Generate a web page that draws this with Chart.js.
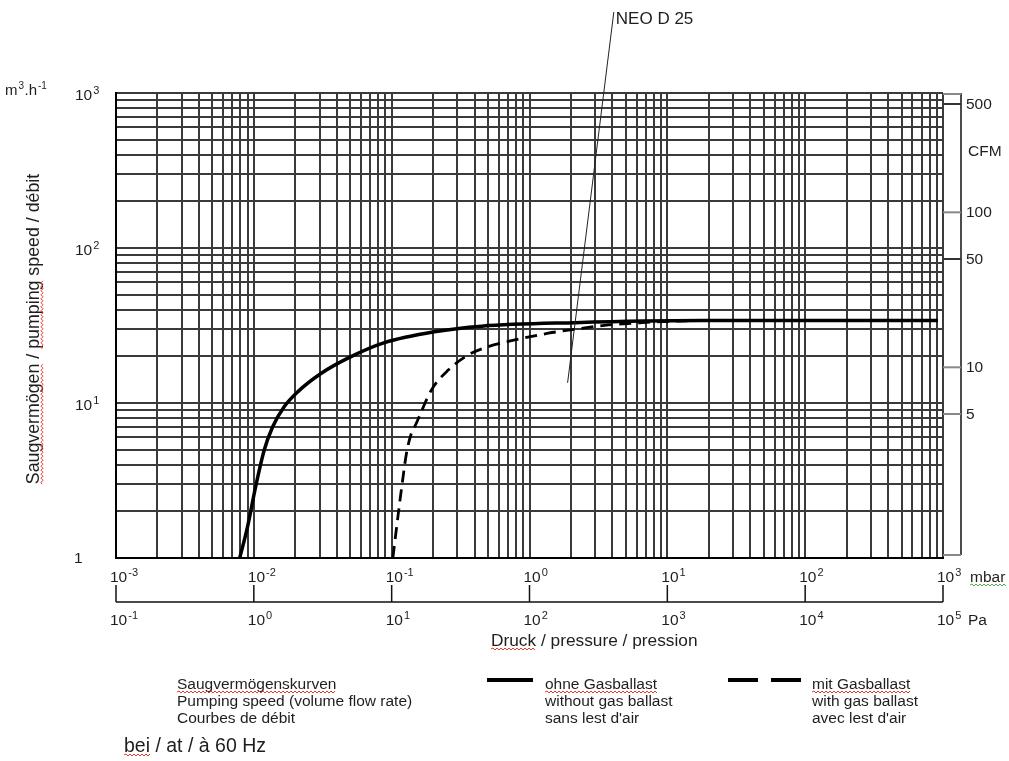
<!DOCTYPE html>
<html>
<head>
<meta charset="utf-8">
<script src="https://cdn.jsdelivr.net/npm/chart.js@4.4.1/dist/chart.umd.min.js"></script>
<style>
  html, body { margin: 0; padding: 0; background: #fff; }
  #wrap { width: 1009px; height: 761px; position: relative; }
</style>
</head>
<body>
<div id="wrap"><canvas id="pumpChart"></canvas></div>
<script>
// pressure in mbar, pumping speed in m3/h
const solidPressure = [0.0079, 0.009, 0.0103, 0.0119, 0.0137, 0.0166, 0.0208, 0.0307, 0.0507, 0.0887, 0.204, 0.45, 2.14, 17.9, 920];
const solidSpeed    = [1.0, 1.59, 2.88, 4.98, 7.03, 9.46, 11.8, 15.5, 19.9, 24.5, 28.8, 31.3, 33.0, 34.0, 34.0];
const dashPressure  = [0.102, 0.111, 0.121, 0.128, 0.139, 0.147, 0.194, 0.257, 0.359, 0.501, 0.783, 1.37, 2.14, 3.75, 6.55, 9.6, 14];
const dashSpeed     = [1.0, 1.85, 3.34, 4.73, 6.38, 7.03, 12.1, 16.3, 20.4, 23.1, 25.5, 28.2, 29.9, 31.9, 33.0, 33.5, 33.9];

const mbarExps = [-3, -2, -1, 0, 1, 2, 3];
const paExps = [-1, 0, 1, 2, 3, 4, 5];
const speedExps = [0, 1, 2, 3];
const cfmTicks = [5, 10, 50, 100, 500];
const CFM_PER_M3H = 0.5886;
const MBAR_PER_PA = 0.01;

const labelNote = { text: "NEO D 25", from: [4.09, 3330], to: [1.89, 13.5] };

const FONT = '"Liberation Sans", Arial, sans-serif';
const INK = '#1e1e1e';

function logGrid(minExp, maxExp) {
  const t = [];
  for (let e = minExp; e < maxExp; e++) {
    for (let d = 1; d <= 9; d++) t.push(d * Math.pow(10, e));
  }
  t.push(Math.pow(10, maxExp));
  return t;
}

function toPoints(xs, ys) {
  return xs.map((x, i) => ({ x: x, y: ys[i] }));
}

function pow10(ctx, e, x, y, size) {
  ctx.font = size + 'px ' + FONT;
  ctx.textAlign = 'left';
  ctx.fillText('10', x, y);
  const w = ctx.measureText('10').width;
  ctx.font = Math.round(size * 0.7) + 'px ' + FONT;
  ctx.fillText(String(e), x + w + 1, y - 6);
}

function wavy(ctx, x1, x2, y, color) {
  ctx.save();
  ctx.strokeStyle = color;
  ctx.lineWidth = 1;
  ctx.beginPath();
  let up = true;
  ctx.moveTo(x1, y);
  for (let x = x1 + 2; x <= x2; x += 2) {
    ctx.lineTo(x, up ? y - 1 : y + 1);
    up = !up;
  }
  ctx.stroke();
  ctx.restore();
}

const extras = {
  id: 'extras',
  afterDraw(chart) {
    const ctx = chart.ctx;
    const xs = chart.scales.x, ys = chart.scales.y;
    const area = chart.chartArea;
    ctx.save();
    ctx.fillStyle = INK;
    ctx.textBaseline = 'alphabetic';

    // mbar labels
    mbarExps.forEach(e => {
      const px = xs.getPixelForValue(Math.pow(10, e));
      pow10(ctx, e, px - 6, 582, 15.5);
    });
    ctx.font = '15.5px ' + FONT;
    ctx.fillText('mbar', 970, 582);
    wavy(ctx, 970, 1006, 585, '#4caf50');

    // Pa axis
    ctx.strokeStyle = '#111';
    ctx.lineWidth = 1.5;
    ctx.beginPath();
    ctx.moveTo(area.left, 602);
    ctx.lineTo(xs.getPixelForValue(Math.pow(10, paExps[paExps.length - 1]) * MBAR_PER_PA), 602);
    ctx.stroke();
    paExps.forEach(e => {
      const px = xs.getPixelForValue(Math.pow(10, e) * MBAR_PER_PA);
      ctx.beginPath();
      ctx.moveTo(px, 585);
      ctx.lineTo(px, 602);
      ctx.stroke();
      pow10(ctx, e, px - 6, 625, 15.5);
    });
    ctx.font = '15.5px ' + FONT;
    ctx.fillText('Pa', 968, 625);

    // x title
    ctx.font = '17.3px ' + FONT;
    ctx.fillText('Druck / pressure / pression', 491, 646);
    wavy(ctx, 491, 491 + ctx.measureText('Druck').width, 649, '#e53935');

    // y labels
    speedExps.forEach(e => {
      const py = ys.getPixelForValue(Math.pow(10, e));
      if (e === 0) {
        ctx.font = '15.5px ' + FONT;
        ctx.fillText('1', 74, py + 5);
      } else {
        pow10(ctx, e, 75, py + 7, 15.5);
      }
    });
    ctx.font = '15px ' + FONT;
    ctx.fillText('m', 5, 95);
    let w = ctx.measureText('m').width;
    ctx.font = '10px ' + FONT;
    ctx.fillText('3', 5 + w + 1, 89);
    ctx.font = '15px ' + FONT;
    ctx.fillText('.h', 5 + w + 7, 95);
    w += 7 + ctx.measureText('.h').width;
    ctx.font = '10px ' + FONT;
    ctx.fillText('-1', 5 + w + 1, 89);

    // y title
    ctx.save();
    ctx.translate(39, 329);
    ctx.rotate(-Math.PI / 2);
    ctx.font = '17.8px ' + FONT;
    const title = 'Saugvermögen / pumping speed / débit';
    const tw = ctx.measureText(title).width;
    ctx.textAlign = 'left';
    ctx.fillText(title, -tw / 2, 0);
    const w1 = ctx.measureText('Saugvermögen').width;
    wavy(ctx, -tw / 2, -tw / 2 + w1, 3, '#e53935');
    const w2 = ctx.measureText('Saugvermögen / ').width;
    const w3 = ctx.measureText('pumping').width;
    wavy(ctx, -tw / 2 + w2, -tw / 2 + w2 + w3, 3, '#e53935');
    ctx.restore();

    // CFM axis
    const yTop = ys.getPixelForValue(1000), yBot = ys.getPixelForValue(1) - 3;
    ctx.strokeStyle = '#111';
    ctx.lineWidth = 1.5;
    ctx.beginPath();
    ctx.moveTo(961, yTop);
    ctx.lineTo(961, yBot);
    ctx.stroke();
    ctx.strokeStyle = '#888';
    ctx.lineWidth = 2;
    ctx.beginPath();
    ctx.moveTo(area.right, yTop + 1); ctx.lineTo(961, yTop + 1);
    ctx.moveTo(area.right, yBot); ctx.lineTo(961, yBot);
    ctx.stroke();
    ctx.font = '15.5px ' + FONT;
    cfmTicks.forEach(c => {
      const py = ys.getPixelForValue(c / CFM_PER_M3H);
      ctx.strokeStyle = c === 500 || c === 50 ? '#333' : '#888';
      ctx.beginPath();
      ctx.moveTo(area.right, py);
      ctx.lineTo(961, py);
      ctx.stroke();
      ctx.fillText(String(c), 966, py + 5);
    });
    ctx.fillText('CFM', 968, 156);

    // annotation
    const a = xs.getPixelForValue(labelNote.from[0]), b = ys.getPixelForValue(labelNote.from[1]);
    const c = xs.getPixelForValue(labelNote.to[0]), d = ys.getPixelForValue(labelNote.to[1]);
    ctx.strokeStyle = '#222';
    ctx.lineWidth = 1;
    ctx.beginPath();
    ctx.moveTo(a, b);
    ctx.lineTo(c, d);
    ctx.stroke();
    ctx.font = '17px ' + FONT;
    ctx.fillText(labelNote.text, a + 2, b + 12);

    // legend
    ctx.font = '15.5px ' + FONT;
    const rows = [689, 706, 723];
    ['Saugvermögenskurven', 'Pumping speed (volume flow rate)', 'Courbes de débit'].forEach((t, i) => ctx.fillText(t, 177, rows[i]));
    wavy(ctx, 177, 177 + ctx.measureText('Saugvermögenskurven').width, 692, '#e53935');
    ['ohne Gasballast', 'without gas ballast', "sans lest d'air"].forEach((t, i) => ctx.fillText(t, 545, rows[i]));
    wavy(ctx, 545, 545 + ctx.measureText('ohne Gasballast').width, 692, '#e53935');
    ['mit Gasballast', 'with gas ballast', "avec lest d'air"].forEach((t, i) => ctx.fillText(t, 812, rows[i]));
    wavy(ctx, 812, 812 + ctx.measureText('mit Gasballast').width, 692, '#e53935');

    ctx.strokeStyle = '#000';
    ctx.lineWidth = 4;
    ctx.beginPath();
    ctx.moveTo(487, 680); ctx.lineTo(533, 680);
    ctx.stroke();
    ctx.setLineDash([30, 13]);
    ctx.beginPath();
    ctx.moveTo(728, 680); ctx.lineTo(801, 680);
    ctx.stroke();
    ctx.setLineDash([]);

    ctx.font = '19.5px ' + FONT;
    ctx.fillText('bei / at / à 60 Hz', 124, 752);
    wavy(ctx, 124, 124 + ctx.measureText('bei').width, 755, '#e53935');

    ctx.restore();
  }
};

const gridStyle = { color: '#3a3a3a', lineWidth: 2, drawTicks: false };

new Chart(document.getElementById('pumpChart'), {
  type: 'line',
  data: {
    datasets: [
      {
        label: 'ohne Gasballast',
        data: toPoints(solidPressure, solidSpeed),
        borderColor: '#000',
        borderWidth: 3.5,
        pointRadius: 0,
        cubicInterpolationMode: 'monotone',
        fill: false
      },
      {
        label: 'mit Gasballast',
        data: toPoints(dashPressure, dashSpeed),
        borderColor: '#000',
        borderWidth: 2.8,
        borderDash: [12, 7],
        pointRadius: 0,
        cubicInterpolationMode: 'monotone',
        fill: false
      }
    ]
  },
  options: {
    responsive: true,
    maintainAspectRatio: false,
    animation: false,
    layout: { padding: { left: 116, right: 66, top: 93, bottom: 203 } },
    plugins: { legend: { display: false }, tooltip: { enabled: false } },
    scales: {
      x: {
        type: 'logarithmic',
        min: 1e-3,
        max: 1e3,
        grid: gridStyle,
        border: { display: true, color: '#000', width: 2 },
        ticks: { display: false, autoSkip: false },
        afterBuildTicks: s => { s.ticks = logGrid(-3, 3).map(v => ({ value: v })); },
        afterFit: s => { s.height = 0; }
      },
      y: {
        type: 'logarithmic',
        min: 1,
        max: 1000,
        grid: gridStyle,
        border: { display: true, color: '#000', width: 2 },
        ticks: { display: false, autoSkip: false },
        afterBuildTicks: s => { s.ticks = logGrid(0, 3).map(v => ({ value: v })); },
        afterFit: s => { s.width = 0; }
      }
    }
  },
  plugins: [extras]
});
</script>
</body>
</html>
